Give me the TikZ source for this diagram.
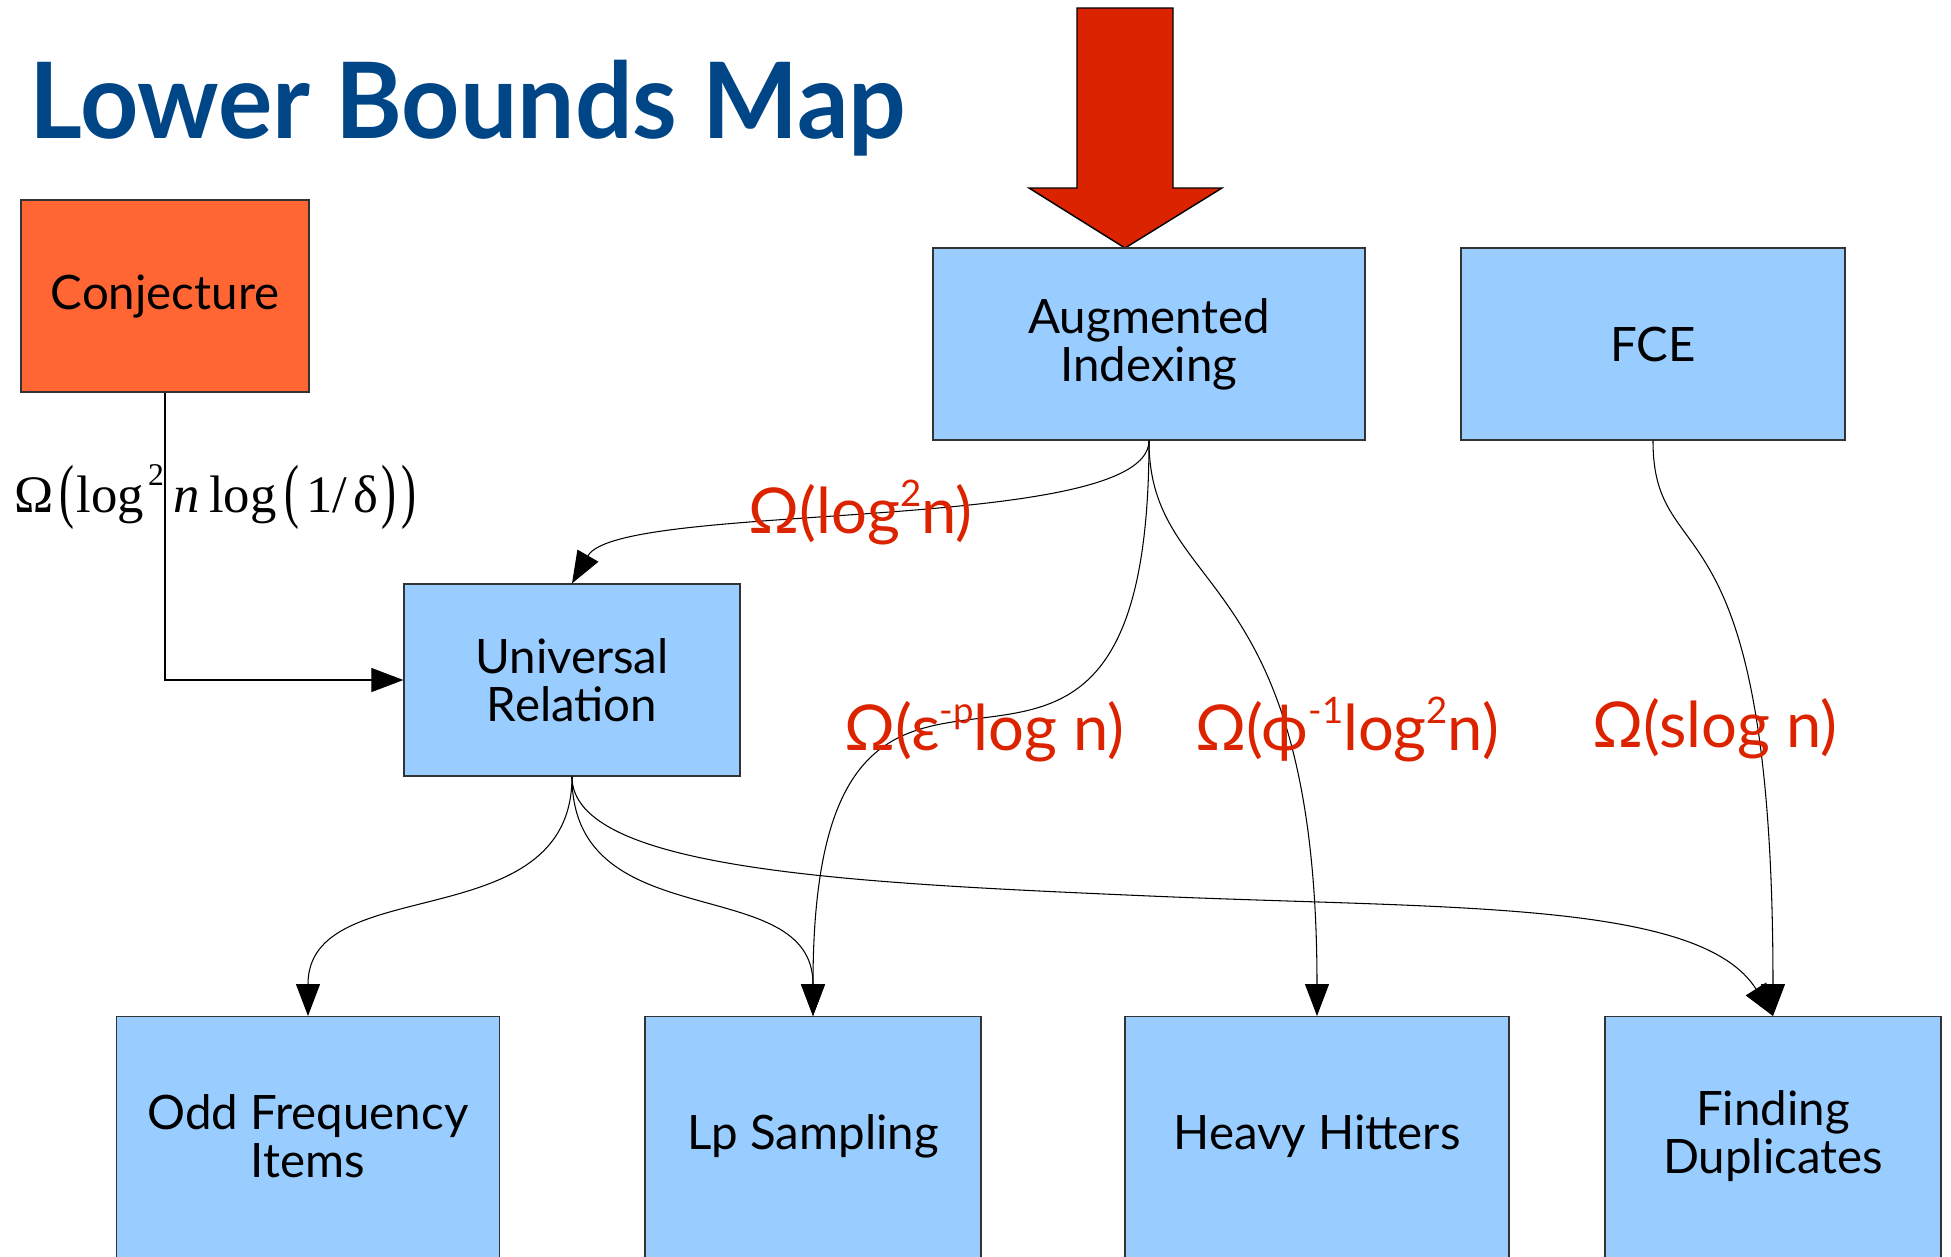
\documentclass[tikz,border=0pt]{standalone}
\usepackage{fontspec}
\usepackage{graphicx}
\setmainfont{Lato}
\newfontfamily\serifmath{Liberation Serif}
\usetikzlibrary{arrows.meta}

\definecolor{boxblue}{HTML}{99CCFF}
\definecolor{conjorange}{HTML}{FF6633}
\definecolor{boundred}{HTML}{DC2300}
\definecolor{titleblue}{HTML}{004586}
\definecolor{edgegrey}{HTML}{333333}

\newcommand\boxfont{\fontsize{13.5pt}{13.7pt}\selectfont}
\newcommand\boundfont{\fontsize{18pt}{18pt}\selectfont}
% raised exponent inside the red bounds
\newcommand\hi[1]{\raisebox{0.42em}{\fontsize{10.4pt}{10.4pt}\selectfont #1}}
% stretched parenthesis for the serif formula
\newcommand\tallp[1]{\raisebox{-0.05em}{\scalebox{0.85}[1.35]{#1}}}

\tikzset{
  box/.style={draw=edgegrey, line width=0.35pt, fill=boxblue, inner sep=0pt,
    align=center, font=\boxfont},
  boxlabel/.style={inner sep=0pt, align=center, font=\boxfont},
  bound/.style={anchor=base west, inner sep=0pt, text=boundred, font=\boundfont},
  conn/.style={draw=black, line width=0.3pt,
    -{Triangle[length=3.2mm,width=2.4mm]}},
}

\begin{document}
\begin{tikzpicture}[x=0.1mm,y=-0.1mm]
\useasboundingbox (0,0) rectangle (1951,1256);
\clip (0,0) rectangle (1951,1256);

% title
\node[anchor=base west, inner sep=0pt, text=titleblue,
  font=\fontsize{30pt}{30pt}\selectfont\bfseries] (title) at (29,138)
  {\scalebox{0.965}[1]{Lower Bounds Map}};

% big red arrow pointing at Augmented Indexing
\draw[fill=boundred, draw=black, line width=0.4pt]
  (1077,8) -- (1173,8) -- (1173,188) -- (1222,188) -- (1125,248)
  -- (1029,188) -- (1077,188) -- cycle;

% upper boxes
\node[box, fill=conjorange, minimum width=28.8mm, minimum height=19.2mm] (conj) at (165,296) {Conjecture};
\node[box, minimum width=43.2mm, minimum height=19.2mm] (aug) at (1149,344) {Augmented\\Indexing};
\node[box, minimum width=38.4mm, minimum height=19.2mm] (fce) at (1653,344) {FCE};
\node[box, minimum width=33.6mm, minimum height=19.2mm] (ur) at (572,680) {Universal\\Relation};

% lower boxes (running off the bottom edge)
\node[box, anchor=north, minimum width=38.3mm, minimum height=30mm] (odd) at (308,1016) {};
\node[box, anchor=north, minimum width=33.6mm, minimum height=30mm] (lp) at (813,1016) {};
\node[box, anchor=north, minimum width=38.4mm, minimum height=30mm] (hh) at (1317,1016) {};
\node[box, anchor=north, minimum width=33.6mm, minimum height=30mm] (fd) at (1773,1016) {};
\node[boxlabel] at ([yshift=-12.0mm]odd.north) {Odd Frequency\\Items};
\node[boxlabel] at ([yshift=-12.0mm]lp.north) {Lp Sampling};
\node[boxlabel] at ([yshift=-12.0mm]hh.north) {Heavy Hitters};
\node[boxlabel] at ([yshift=-12.0mm]fd.north) {Finding\\Duplicates};

% connectors
\draw[conn] (conj.south) |- (ur.west);
\draw[conn] (aug.south) .. controls (1149,535) and (620,500) .. (ur.north);
\draw[conn] (aug.south) .. controls (1149,950) and (813,490) .. (lp.north);
\draw[conn] (aug.south) .. controls (1149,600) and (1317,560) .. (hh.north);
\draw[conn] (fce.south) .. controls (1653,580) and (1773,480) .. (fd.north);
\draw[conn] (ur.south) .. controls (572,940) and (308,870) .. (odd.north);
\draw[conn] (ur.south) .. controls (572,940) and (813,870) .. (lp.north);
\draw[conn] (ur.south) .. controls (572,870) and (850,883) .. (1150,896)
  .. controls (1450,909) and (1700,900) .. (fd.north);

% bound labels
\node[anchor=base west, inner sep=0pt, font=\serifmath\fontsize{15pt}{15pt}\selectfont] (cost) at (14,512)
  {Ω\hspace{0.6mm}\tallp{(}\hspace{0.2mm}log\hspace{0.4mm}\raisebox{0.5em}{\fontsize{9pt}{9pt}\selectfont 2}\hspace{1.0mm}\textit{n}\hspace{0.9mm}log\hspace{0.8mm}\tallp{(}\hspace{0.7mm}1/\hspace{0.6mm}δ\hspace{0.3mm}\tallp{)}\hspace{0.5mm}\tallp{)}};
\node[bound] (b1) at (748,533) {Ω(log\hi{2}n)};
\node[bound] (b2) at (844,750) {Ω(ε\hi{-p}log n)};
\node[bound] (b3) at (1195,750) {Ω(ϕ\hi{-1}log\hi{2}n)};
\node[bound] (b4) at (1592,747) {Ω(slog n)};
\end{tikzpicture}
\end{document}
